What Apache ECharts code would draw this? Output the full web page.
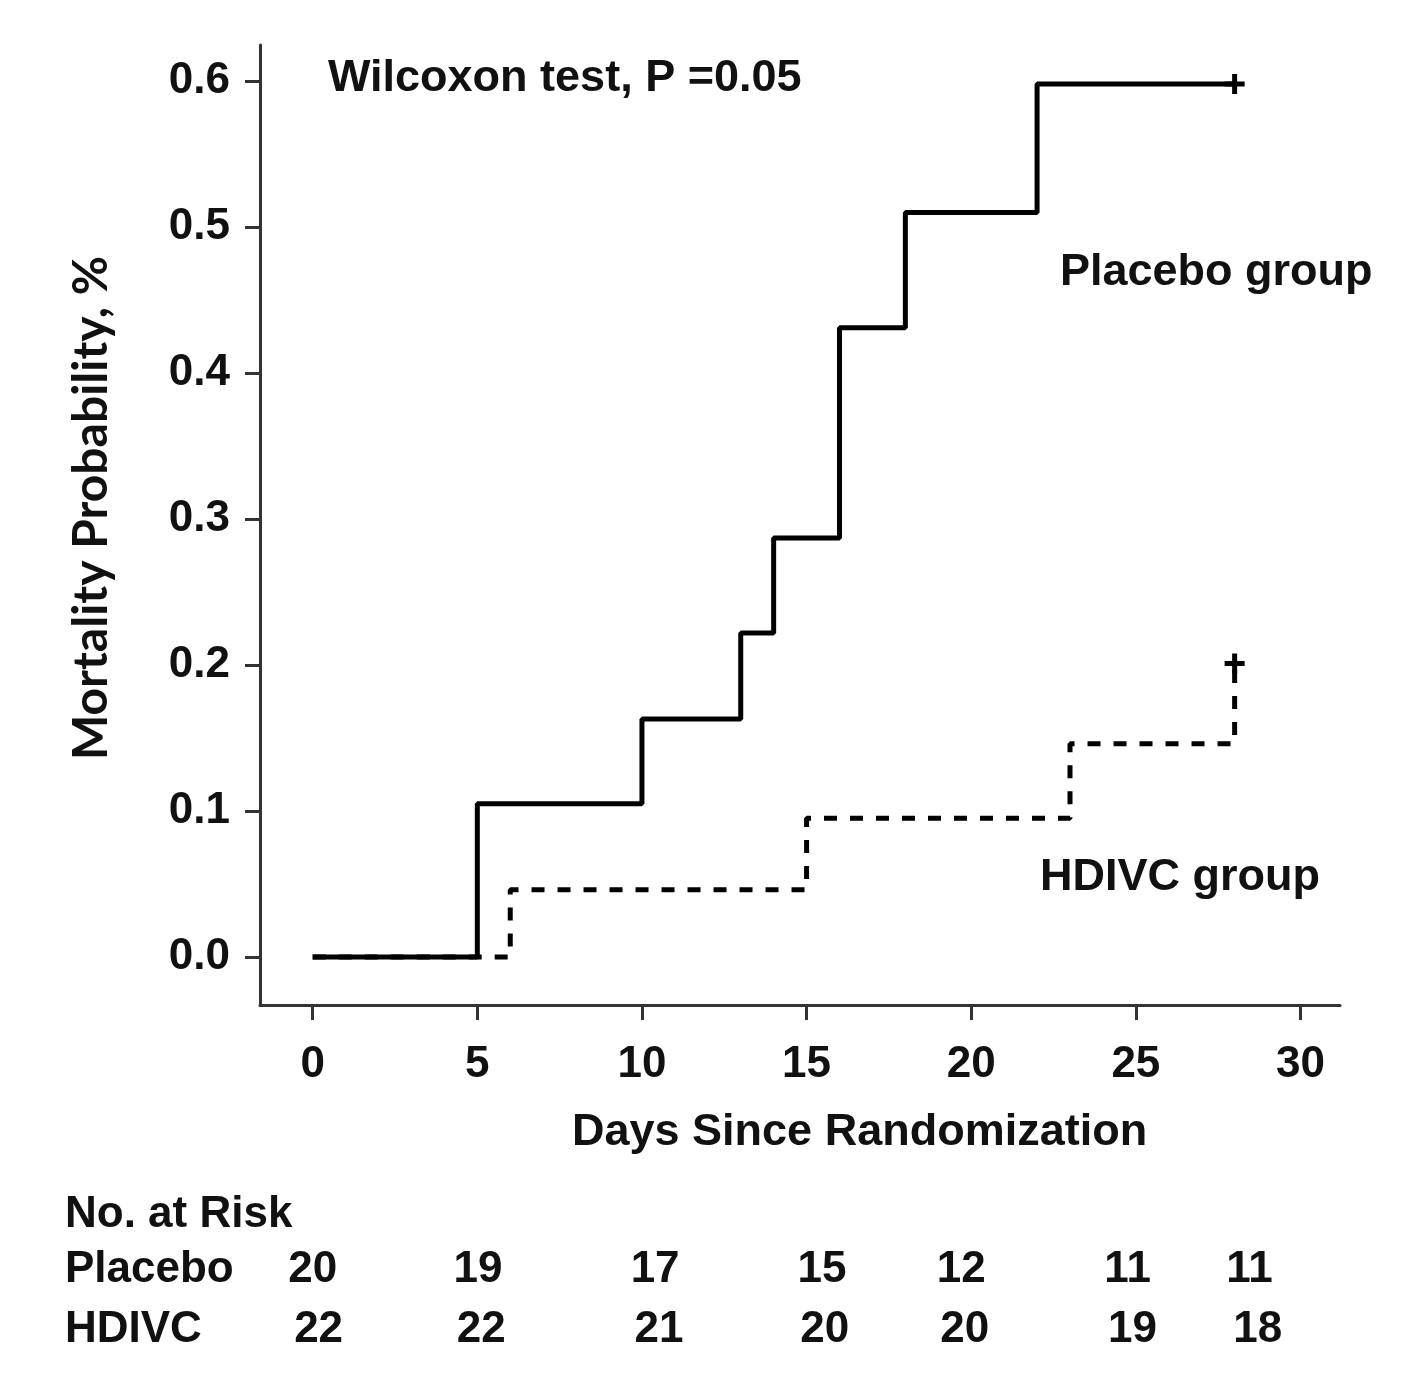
<!DOCTYPE html>
<html><head><meta charset="utf-8">
<script src="https://cdn.jsdelivr.net/npm/echarts@6/dist/echarts.min.js"></script>
<style>html,body{margin:0;padding:0;background:#fff}#c{width:1409px;height:1399px}</style>
</head><body><div id="c"></div>
<script>
// ---- data ----
const xTicks = [0, 5, 10, 15, 20, 25, 30];
const yTicks = [0, 0.1, 0.2, 0.3, 0.4, 0.5, 0.6];
// Kaplan-Meier steps: [day, cumulative mortality]
const placeboSteps = [[0, 0], [5, 0.105], [10, 0.163], [13, 0.222], [14, 0.287], [16, 0.431], [18, 0.51], [22, 0.598], [28, 0.598]];
const hdivcSteps = [[0, 0], [6, 0.046], [15, 0.095], [23, 0.146], [28, 0.201]];
const placeboCensor = [[28, 0.598]];
const hdivcCensor = [[28, 0.201]];
// number at risk table
const riskRows = ['Placebo', 'HDIVC'];
const riskTimesPlacebo = [0, 5.02, 10.4, 15.47, 19.7, 24.75, 28.45];
const riskTimesHdivc = [0.18, 5.12, 10.52, 15.55, 19.8, 24.9, 28.7];
const riskPlacebo = [20, 19, 17, 15, 12, 11, 11];
const riskHdivc = [22, 22, 21, 20, 20, 19, 18];

const FONT = '"Liberation Sans", Arial, sans-serif';
const INK = '#111';
const plus = 'path://M0,7.5h7.5v-7.5h5v7.5h7.5v5h-7.5v7.5h-5v-7.5h-7.5z';

const chart = echarts.init(document.getElementById('c'), null, {renderer: 'canvas'});
const riskData = (times, vals, row) => times.map((t, i) => [t, row, vals[i]]);

chart.setOption({
  animation: false,
  backgroundColor: '#fff',
  grid: [
    {left: 260, right: 69, top: 45, height: 960},
    {left: 260, right: 69, top: 1240, height: 120}
  ],
  xAxis: [
    {
      type: 'value', gridIndex: 0, min: -1.6, max: 31.2,
      splitLine: {show: false},
      axisLine: {show: true, onZero: false, lineStyle: {color: '#333', width: 3}},
      axisTick: {show: true, customValues: xTicks, length: 15, lineStyle: {color: '#333', width: 3}},
      axisLabel: {customValues: xTicks, margin: 38, color: INK, fontFamily: FONT, fontWeight: 'bold', fontSize: 44}
    },
    {type: 'value', gridIndex: 1, min: -1.6, max: 31.2, show: false}
  ],
  yAxis: [
    {
      type: 'value', gridIndex: 0, min: -0.03288, max: 0.62466,
      splitLine: {show: false},
      axisLine: {show: true, onZero: false, lineStyle: {color: '#333', width: 3}},
      axisTick: {show: true, customValues: yTicks, length: 15, lineStyle: {color: '#333', width: 3}},
      axisLabel: {customValues: yTicks, margin: 30, color: INK, fontFamily: FONT, fontWeight: 'bold', fontSize: 44,
        formatter: v => v.toFixed(1)}
    },
    {
      type: 'category', gridIndex: 1, data: riskRows, inverse: true,
      axisLine: {show: false}, axisTick: {show: false}, splitLine: {show: false},
      axisLabel: {align: 'left', margin: 195, color: INK, fontFamily: FONT, fontWeight: 'bold', fontSize: 44}
    }
  ],
  series: [
    {
      name: 'HDIVC', type: 'line', step: 'end', xAxisIndex: 0, yAxisIndex: 0,
      data: hdivcSteps, showSymbol: false, symbol: 'none',
      lineStyle: {color: '#000', width: 5, type: [13, 13]}, z: 2
    },
    {
      name: 'Placebo', type: 'line', step: 'end', xAxisIndex: 0, yAxisIndex: 0,
      data: placeboSteps, showSymbol: false, symbol: 'none',
      lineStyle: {color: '#000', width: 5}, z: 3
    },
    {
      type: 'scatter', xAxisIndex: 0, yAxisIndex: 0, data: placeboCensor.concat(hdivcCensor),
      symbol: plus, symbolSize: 20, itemStyle: {color: '#000', opacity: 1}, z: 4
    },
    {
      type: 'scatter', xAxisIndex: 1, yAxisIndex: 1,
      data: riskData(riskTimesPlacebo, riskPlacebo, 'Placebo').concat(riskData(riskTimesHdivc, riskHdivc, 'HDIVC')),
      symbolSize: 0, itemStyle: {color: '#000', opacity: 1},
      label: {show: true, position: 'inside', formatter: p => String(p.value[2]), opacity: 1,
        color: INK, fontFamily: FONT, fontWeight: 'bold', fontSize: 44, textBorderWidth: 0}
    }
  ],
  graphic: [
    {type: 'text', left: 328, top: 56, style: {text: 'Wilcoxon test, P =0.05', fill: INK, font: 'bold 45px ' + FONT}},
    {type: 'text', left: 1060, top: 250, style: {text: 'Placebo group', fill: INK, font: 'bold 45px ' + FONT}},
    {type: 'text', left: 1040, top: 855, style: {text: 'HDIVC group', fill: INK, font: 'bold 45px ' + FONT}},
    {type: 'text', left: 572, top: 1110, style: {text: 'Days Since Randomization', fill: INK, font: 'bold 45px ' + FONT}},
    {type: 'text', left: 65, top: 1193, style: {text: 'No. at Risk', fill: INK, font: 'bold 44px ' + FONT}},
    {type: 'text', x: 92, y: 508, rotation: Math.PI / 2,
      style: {text: 'Mortality Probability, %', fill: INK, font: 'bold 48px Lato, "Open Sans", sans-serif', align: 'center', verticalAlign: 'middle'}}
  ]
});
</script></body></html>
